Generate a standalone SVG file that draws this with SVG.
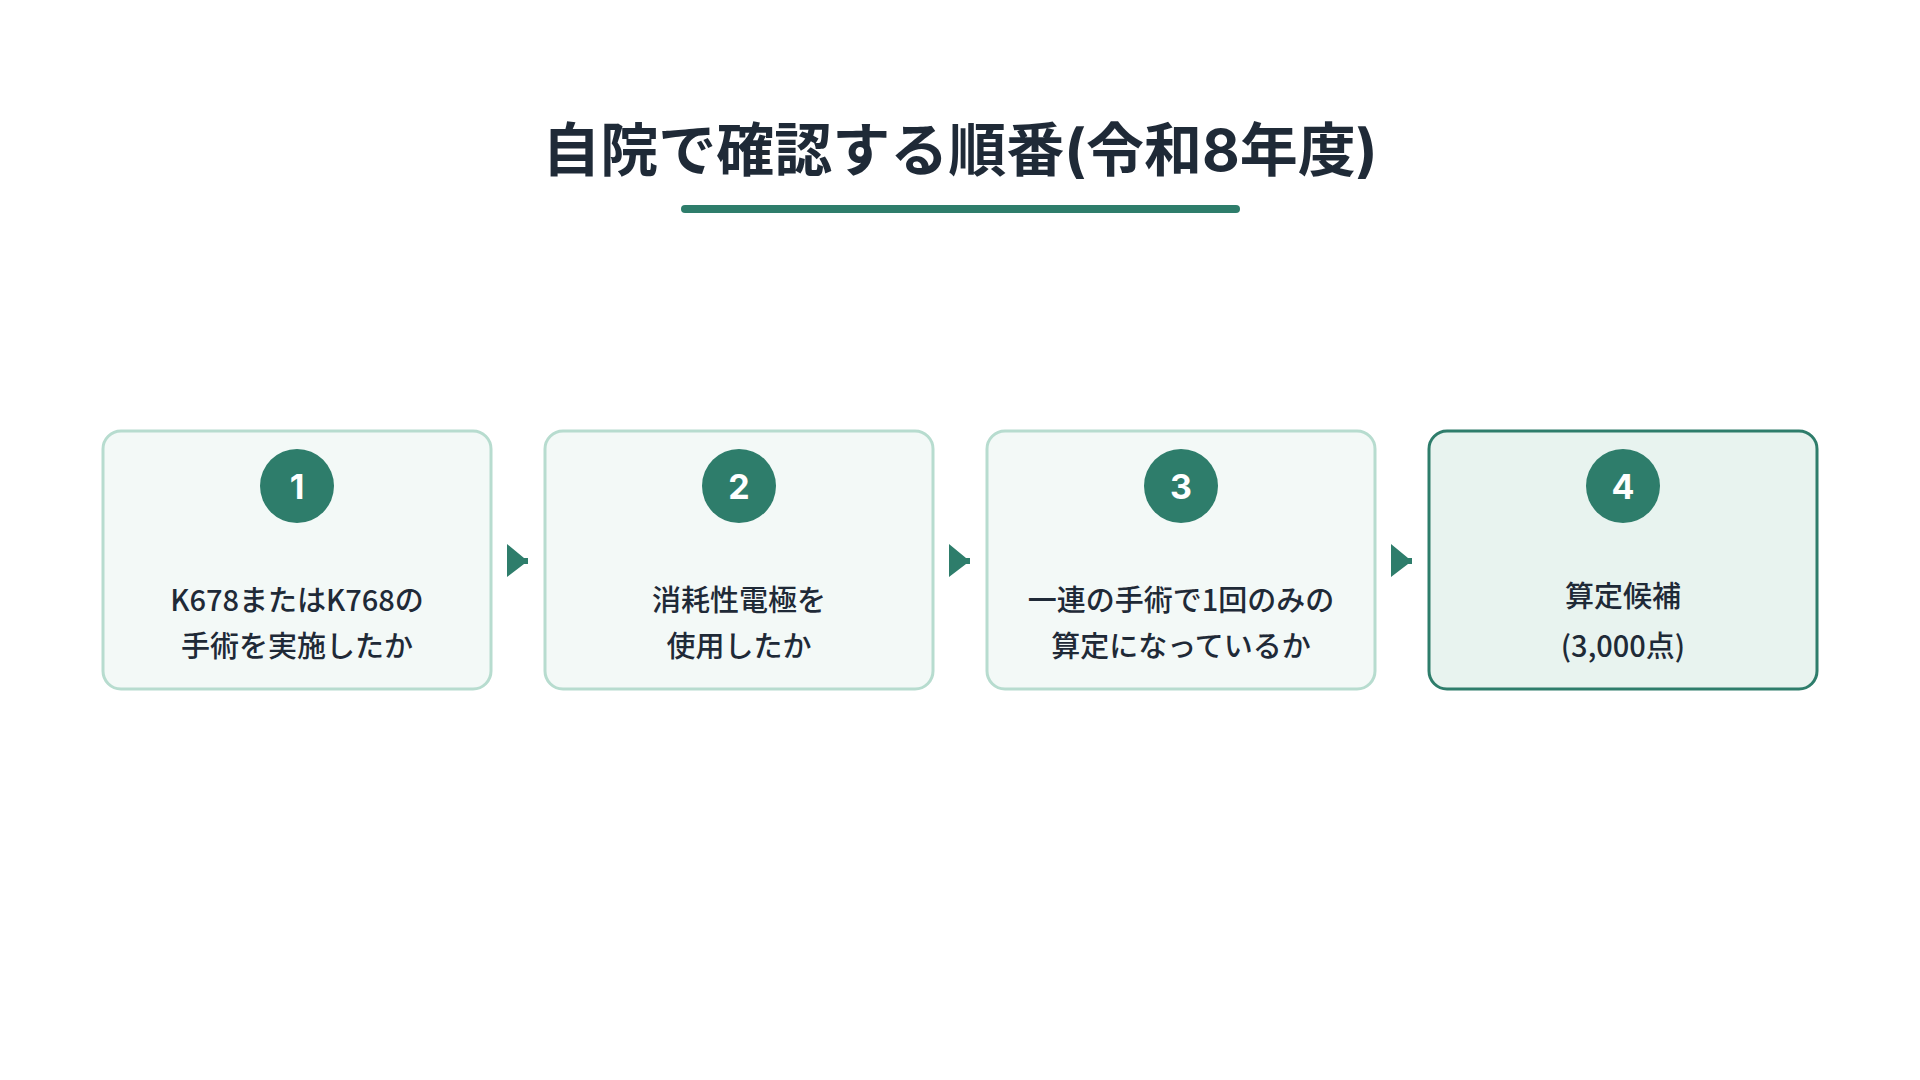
<svg xmlns="http://www.w3.org/2000/svg" width="1920" height="1080" viewBox="0 0 1920 1080">
<style>
.box{fill:#f3f9f7;stroke:#b7dccf;stroke-width:3}
.box.last{fill:#e8f3ef;stroke:#2e7d6b}
.num{fill:#2e7d6b}
.numt{fill:#fff;font-family:Inter,"Noto Sans CJK JP",sans-serif;font-weight:700;font-size:34px;text-anchor:middle;dominant-baseline:central}
.lbl{fill:#1f2a37;font-family:"Noto Sans CJK JP",sans-serif;font-weight:500;font-size:29px;text-anchor:middle;dominant-baseline:central}
.arr{fill:#2e7d6b}
</style>
<rect width="1920" height="1080" fill="#fff"/>
<g id="title">
<text x="960" y="150" text-anchor="middle" dominant-baseline="central" font-family="Inter,'Noto Sans CJK JP',sans-serif" font-weight="700" font-size="58" fill="#1f2a37">自院で確認する順番(令和8年度)</text>
<rect x="681" y="205" width="559" height="8" rx="4" fill="#2e7d6b"/>
</g>
<g id="connectors">
<path class="arr" d="M507 544 L524 558 L528 558 L528 564 L524 564 L507 577 Z"/>
<path class="arr" d="M949 544 L966 558 L970 558 L970 564 L966 564 L949 577 Z"/>
<path class="arr" d="M1391 544 L1408 558 L1412 558 L1412 564 L1408 564 L1391 577 Z"/>
</g>
<g id="step1">
<rect class="box" x="103" y="431" width="388" height="258" rx="18"/>
<circle class="num" cx="297" cy="486" r="37"/><text class="numt" x="297" y="486">1</text>
<text class="lbl" x="297" y="598">K678またはK768の</text>
<text class="lbl" x="297" y="644">手術を実施したか</text>
</g>
<g id="step2">
<rect class="box" x="545" y="431" width="388" height="258" rx="18"/>
<circle class="num" cx="739" cy="486" r="37"/><text class="numt" x="739" y="486">2</text>
<text class="lbl" x="739" y="598">消耗性電極を</text>
<text class="lbl" x="739" y="644">使用したか</text>
</g>
<g id="step3">
<rect class="box" x="987" y="431" width="388" height="258" rx="18"/>
<circle class="num" cx="1181" cy="486" r="37"/><text class="numt" x="1181" y="486">3</text>
<text class="lbl" x="1181" y="598">一連の手術で1回のみの</text>
<text class="lbl" x="1181" y="644">算定になっているか</text>
</g>
<g id="step4">
<rect class="box last" x="1429" y="431" width="388" height="258" rx="18"/>
<circle class="num" cx="1623" cy="486" r="37"/><text class="numt" x="1623" y="486">4</text>
<text class="lbl" x="1623" y="594">算定候補</text>
<text class="lbl" x="1623" y="644">(3,000点)</text>
</g>
</svg>
